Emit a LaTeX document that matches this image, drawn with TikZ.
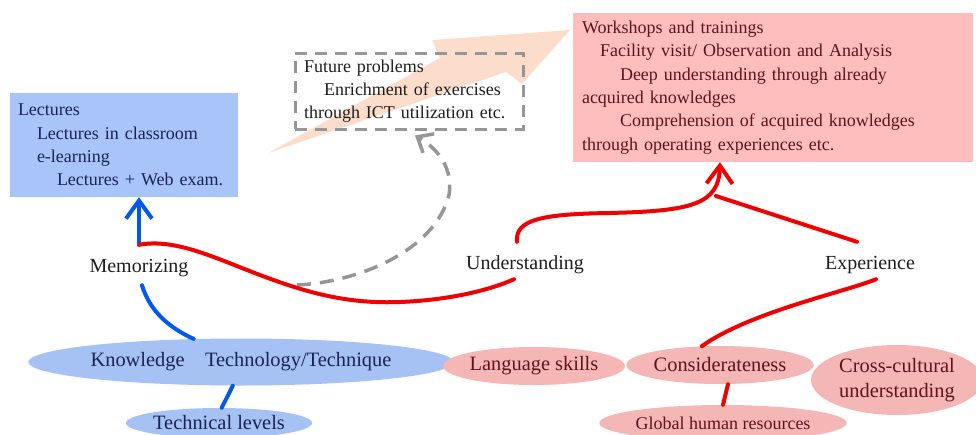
\documentclass[tikz,border=0pt]{standalone}
\usepackage{fontspec}
\setmainfont{Liberation Serif}
\usetikzlibrary{shapes.geometric,arrows.meta,calc}
\definecolor{boxblue}{RGB}{168,196,248}
\definecolor{ellblue}{RGB}{166,194,245}
\definecolor{txtblue}{RGB}{25,35,85}
\definecolor{boxpink}{RGB}{255,190,190}
\definecolor{ellpink}{RGB}{245,182,182}
\definecolor{txtpink}{RGB}{95,20,25}
\definecolor{linered}{RGB}{238,0,0}
\definecolor{lineblue}{RGB}{0,88,235}
\definecolor{linegrey}{RGB}{150,150,150}
\definecolor{peach}{RGB}{250,198,168}
\definecolor{lbltext}{RGB}{30,30,30}
\begin{document}
\begin{tikzpicture}[x=1pt,y=-1pt,
  boxtxt/.style={rectangle, align=left, font=\fontsize{18}{23.3}\selectfont, inner ysep=0pt},
  lbl/.style={font=\fontsize{20}{24}\selectfont, text=lbltext, minimum height=46pt, inner sep=0pt},
  ell/.style={ellipse, inner sep=0pt, align=center, font=\fontsize{20.4}{25}\selectfont},
  blueell/.style={ell, fill=ellblue, text=txtblue},
  pinkell/.style={ell, fill=ellpink, text=txtpink},
  redl/.style={draw=linered, line width=4pt, line cap=round},
  bluel/.style={draw=lineblue, line width=4pt, line cap=round},
  greyl/.style={draw=linegrey, line width=3.5pt, dash pattern=on 14pt off 9pt},
  barb/.style={-{Straight Barb[length=18pt,width=26pt]}},
  smallbarb/.style={-{Straight Barb[length=13pt,width=22pt]}}
]
\useasboundingbox (0,0) rectangle (976,434);
\clip (0,0) rectangle (976,434);

% big peach arrow (background)
\fill[peach, opacity=0.6] (268,153) -- (440,58) -- (432,40) -- (570,30) -- (522,84) -- (506,72) -- cycle;

% boxes
\node[boxtxt, fill=boxblue, text=txtblue, minimum width=228pt, minimum height=104pt,
      text width=212pt, inner xsep=8pt] (lect) at (124,145)
  {Lectures\\\hspace*{19pt}Lectures in classroom\\\hspace*{19pt}e-learning\\\hspace*{39pt}Lectures + Web exam.};
\node[boxtxt, draw=linegrey, line width=3pt, dash pattern=on 12pt off 8pt, text=lbltext,
      minimum width=228pt, minimum height=76pt, text width=210pt, inner xsep=9pt] (fut) at (409,91)
  {Future problems\\\hspace*{20pt}Enrichment of exercises\\through ICT utilization etc.};
\node[boxtxt, fill=boxpink, text=txtpink, minimum width=400pt, minimum height=149pt,
      text width=382pt, inner xsep=9pt] (work) at (773,87.5)
  {Workshops and trainings\\\hspace*{18pt}Facility visit/ Observation and Analysis\\\hspace*{38pt}Deep understanding through already\\acquired knowledges\\\hspace*{38pt}Comprehension of acquired knowledges\\through operating experiences etc.};

% labels
\node[lbl] (mem) at (139,268) {Memorizing};
\node[lbl] (und) at (525,265) {Understanding};
\node[lbl] (exp) at (870,265) {Experience};

% ellipses
\node[blueell, minimum width=403pt, minimum height=47pt] (know) at (241,362) {Knowledge\hspace{0.75em} Technology/Technique};
\node[blueell, minimum width=184pt, minimum height=30pt] (tech) at (219,423) {Technical levels};
\node[pinkell, minimum width=172pt, minimum height=38pt] (lang) at (534,366) {Language skills};
\node[pinkell, minimum width=176pt, minimum height=38pt] (cons) at (720,365) {Considerateness};
\node[pinkell, minimum width=172pt, minimum height=70pt] (cross) at (897,380) {Cross-cultural\\understanding};
\node[pinkell, minimum width=236pt, minimum height=36pt, font=\fontsize{18}{22}\selectfont] (glob) at (723,423) {Global human resources};

% coordinates for free ends
\coordinate (junc) at (716,196);
\coordinate (gstart) at (297,285);

% grey dashed connector
\draw[greyl, smallbarb] (gstart) .. controls (360,282) and (435,250) .. (449,195)
  .. controls (453,170) and (440,150) .. ($(fut.south)+(6,5)$);

% blue connectors
\draw[bluel, barb] (mem.north) -- (mem.north |- lect.south);
\draw[bluel] ($(mem.south)+(3,-6)$) .. controls (150,312) and (170,328) .. (know.154);
\draw[bluel] (know.251) -- (tech.80);

% red connectors
\draw[redl] (mem.north) .. controls (175,238) and (215,258) .. (260,275)
  .. controls (310,294) and (350,304) .. (400,302)
  .. controls (450,300) and (490,290) .. ($(und.south)+(-11,-9)$);
\draw[redl, barb] ($(und.north)+(-8,0)$) .. controls (515,220) and (540,214) .. (610,213)
  .. controls (690,211) and (719,205) .. ($(work.south)+(-53,0)$);
\draw[redl] ($(exp.north)+(-13,0)$) -- (junc);
\draw[redl] ($(exp.south)+(6,-9)$) .. controls (845,292) and (750,312) .. (cons.134);
\draw[redl] ($(cons.south)+(8,0)$) -- (glob.north);
\end{tikzpicture}
\end{document}
